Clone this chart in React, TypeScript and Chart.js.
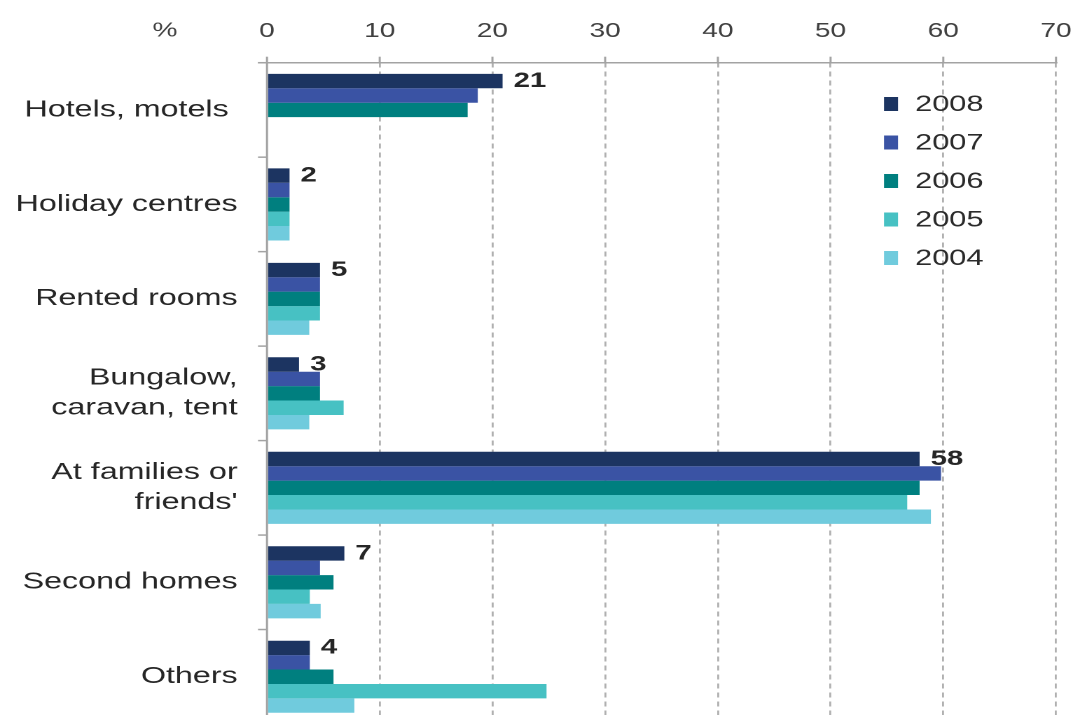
import React, { useEffect, useRef } from "react";
import { Chart, registerables } from "chart.js";

Chart.register(...registerables);

const categories: (string | string[])[] = [
  "Hotels, motels ",
  "Holiday centres",
  "Rented rooms",
  ["Bungalow,", "caravan, tent"],
  ["At families or", "friends'"],
  "Second homes",
  "Others",
];
const years = ["2008", "2007", "2006", "2005", "2004"];
const s2008 = [20.9, 2, 4.7, 2.84, 57.9, 6.86, 3.8];
const s2007 = [18.7, 2, 4.7, 4.7, 59.8, 4.7, 3.8];
const s2006 = [17.8, 2, 4.7, 4.7, 57.9, 5.9, 5.9];
const s2005 = [null, 2, 4.7, 6.8, 56.8, 3.8, 24.8];
const s2004 = [null, 2, 3.75, 3.75, 58.9, 4.76, 7.75];
const xTicksMin = 0;
const xTicksMax = 70;
const xTickStep = 10;
const axisUnit = "%";

const colors = ["#1c3461", "#3a53a4", "#007f7f", "#47c1c3", "#70cbdd"];

const S = 1073 / 766; // horizontal stretch of the reference
const W = 766;
const H = 724;
const FONT = "'Liberation Sans', Arial, sans-serif";
const ix = (v: number) => v / S;

const decor = {
  id: "decor",
  afterDatasetsDraw(chart: any) {
    const { ctx, chartArea, scales } = chart;
    const xs = scales.x;
    const top = chartArea.top;
    const bottom = chartArea.bottom;
    const left = chartArea.left;
    ctx.save();
    ctx.strokeStyle = "#a3a3a3";
    ctx.lineWidth = 1.5;
    ctx.beginPath();
    ctx.moveTo(left - ix(9), top);
    ctx.lineTo(chartArea.right + 1, top);
    ctx.stroke();
    ctx.beginPath();
    ctx.moveTo(left, top);
    ctx.lineTo(left, bottom);
    ctx.stroke();
    xs.ticks.forEach((t: any) => {
      const px = xs.getPixelForValue(t.value);
      ctx.beginPath();
      ctx.moveTo(px, top - 6);
      ctx.lineTo(px, top);
      ctx.stroke();
    });
    const n = categories.length;
    const step = (bottom - top) / n;
    for (let i = 0; i <= n; i++) {
      const py = top + i * step;
      ctx.beginPath();
      ctx.moveTo(left - ix(9), py);
      ctx.lineTo(left, py);
      ctx.stroke();
    }
    const meta = chart.getDatasetMeta(0);
    ctx.fillStyle = "#262626";
    ctx.font = `bold 21px ${FONT}`;
    ctx.textAlign = "left";
    ctx.textBaseline = "middle";
    meta.data.forEach((el: any, i: number) => {
      const v = s2008[i];
      if (v == null) return;
      ctx.fillText(String(Math.round(v)), el.x + ix(11), el.y);
    });
    ctx.fillStyle = "#404040";
    ctx.font = `20px ${FONT}`;
    ctx.textAlign = "center";
    ctx.fillText(axisUnit, ix(165), 31);
    ctx.font = `22px ${FONT}`;
    ctx.textAlign = "left";
    years.forEach((yr, i) => {
      const cy = 104 + i * 38.5;
      ctx.fillStyle = colors[i];
      ctx.fillRect(ix(884), cy - 7, ix(14), 14);
      ctx.fillStyle = "#2b2b2b";
      ctx.fillText(yr, ix(915), cy + 1);
    });
    ctx.restore();
  },
};

export default function App() {
  const ref = useRef<HTMLCanvasElement | null>(null);
  useEffect(() => {
    if (!ref.current) return;
    const series = [s2008, s2007, s2006, s2005, s2004];
    const chart = new Chart(ref.current, {
      type: "bar",
      data: {
        labels: categories,
        datasets: years.map((y, i) => ({
          label: y,
          data: series[i],
          backgroundColor: colors[i],
          borderWidth: 0,
          categoryPercentage: 0.763,
          barPercentage: 1,
        })),
      },
      options: {
        indexAxis: "y",
        animation: false,
        responsive: false,
        maintainAspectRatio: false,
        devicePixelRatio: 2,
        layout: { padding: { left: 0, right: W - ix(1056), top: 0, bottom: 0 } },
        plugins: {
          legend: { display: false },
          tooltip: { enabled: false },
          title: { display: false },
        },
        scales: {
          x: {
            type: "linear",
            position: "top",
            min: xTicksMin,
            max: xTicksMax,
            ticks: {
              stepSize: xTickStep,
              color: "#404040",
              font: { family: FONT, size: 20 },
              padding: 19,
            },
            grid: {
              color: (c: any) => (c.tick && c.tick.value === 0 ? "rgba(0,0,0,0)" : "#b0b0b0"),
              lineWidth: 1.4,
              drawTicks: false,
            },
            border: { display: false, dash: [5, 4] },
            afterFit: (scale: any) => {
              scale.height = 62.7;
              scale.paddingLeft = 0;
              scale.paddingRight = 0;
            },
          },
          y: {
            type: "category",
            position: "left",
            ticks: {
              color: "#262626",
              font: { family: FONT, size: 23, lineHeight: 1.3 },
              padding: 21,
            },
            grid: { display: false, drawTicks: false },
            border: { display: false },
            afterFit: (scale: any) => {
              scale.width = ix(267);
              scale.paddingTop = 0;
              scale.paddingBottom = 0;
            },
          },
        },
      },
      plugins: [decor],
    } as any);
    return () => chart.destroy();
  }, []);

  return (
    <div
      style={{
        position: "fixed",
        left: 0,
        top: 0,
        width: 1073,
        height: 715,
        overflow: "hidden",
        background: "#fff",
      }}
    >
      <div
        style={{
          position: "absolute",
          left: 0,
          top: 0,
          width: W,
          height: H,
          transform: `scaleX(${S})`,
          transformOrigin: "0 0",
        }}
      >
        <canvas ref={ref} width={W} height={H} style={{ display: "block", width: W, height: H }} />
      </div>
    </div>
  );
}
